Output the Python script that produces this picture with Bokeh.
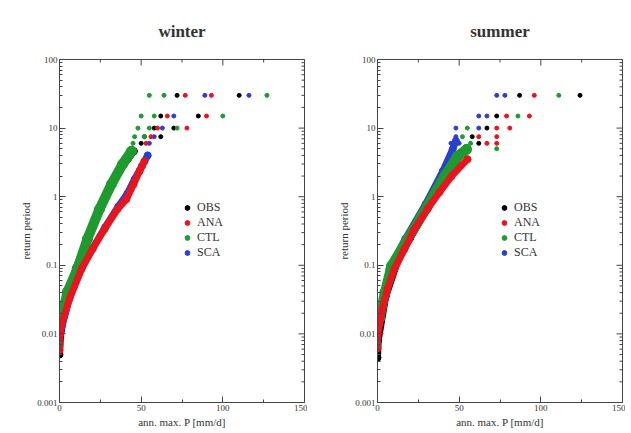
import math
from bokeh.plotting import figure
from bokeh.layouts import row
from bokeh.models import FixedTicker, Legend, LegendItem, CustomJSTickFormatter
from bokeh.embed import file_html
from bokeh.resources import INLINE

SERIES = ["OBS", "ANA", "CTL", "SCA"]
COLORS = {"OBS": "#000000", "ANA": "#e8141e", "CTL": "#1f9a2f", "SCA": "#2a3fd0"}
X_TICKS = [0, 50, 100, 150]
X_MINOR = [25, 75, 125]
Y_TICKS = [0.001, 0.01, 0.1, 1, 10, 100]
Y_MINOR = [0.002, 0.003, 0.004, 0.005, 0.006, 0.007, 0.008, 0.009,
           0.02, 0.03, 0.04, 0.05, 0.06, 0.07, 0.08, 0.09,
           0.2, 0.3, 0.4, 0.5, 0.6, 0.7, 0.8, 0.9,
           2, 3, 4, 5, 6, 7, 8, 9,
           20, 30, 40, 50, 60, 70, 80, 90]

# ---- winter: dense part of the curves (ann. max. P [mm/d], return period)
w_obs_p = [0, 0.5, 4, 10, 16.5, 23.5, 30.5, 37, 42, 45.5]
w_obs_t = [0.005, 0.009, 0.03, 0.09, 0.22, 0.6, 1.3, 2.4, 3.6, 4.6]
w_ana_p = [0, 0.6, 6.1, 13.5, 20.2, 27.6, 35.5, 41, 45.3, 49, 52]
w_ana_t = [0.0058, 0.0119, 0.0325, 0.0887, 0.173, 0.338, 0.66, 0.923, 1.52, 2.36, 3.29]
w_ctl_p = [1.2, 4.9, 11, 17.1, 24.5, 31.8, 38.6, 44.1]
w_ctl_t = [0.0166, 0.041, 0.0887, 0.242, 0.66, 1.52, 2.98, 4.62]
w_sca_p = [0.3, 6, 13.5, 20.5, 28, 36, 41.5, 46, 50.5, 54]
w_sca_t = [0.01, 0.033, 0.09, 0.18, 0.36, 0.72, 1.1, 1.8, 2.8, 4.0]
# ---- winter: sparse upper points
w_obs_tp = [72, 110, 62, 85, 58, 70, 52, 62, 50]
w_obs_tt = [30, 30, 15, 15, 10, 10, 7.5, 7.5, 6]
w_ana_tp = [77, 93, 66, 90, 60, 78, 56, 53]
w_ana_tt = [30, 30, 15, 15, 10, 10, 7.5, 6]
w_ctl_tp = [55, 64, 127, 50, 58, 100, 48, 55, 72, 46, 52, 45]
w_ctl_tt = [30, 30, 30, 15, 15, 15, 10, 10, 10, 7.5, 7.5, 6]
w_sca_tp = [89, 116, 70, 63, 58, 55]
w_sca_tt = [30, 30, 15, 10, 7.5, 6]

# ---- summer: dense part of the curves
s_obs_p = [0, 0.4, 5, 12, 20, 31, 40, 47, 52]
s_obs_t = [0.0045, 0.008, 0.035, 0.11, 0.25, 0.7, 1.6, 3, 4.4]
s_ana_p = [0, 0, 3, 6.1, 10.4, 16.5, 22.7, 30.6, 38, 45.3, 55.1]
s_ana_t = [0.0062, 0.0095, 0.0232, 0.0454, 0.0887, 0.173, 0.338, 0.66, 1.17, 1.99, 3.52]
s_ctl_p = [1.2, 4.5, 8.6, 18.4, 30.6, 41, 49, 54.5]
s_ctl_t = [0.0166, 0.04, 0.098, 0.242, 0.73, 1.99, 3.9, 4.9]
s_sca_p = [0.6, 7.3, 17, 29.5, 40, 46, 48]
s_sca_t = [0.0119, 0.0887, 0.242, 0.78, 2.36, 4.9, 6.5]
# ---- summer: sparse upper points
s_obs_tp = [87, 124, 73, 67, 58, 62]
s_obs_tt = [30, 30, 15, 10, 7.5, 6]
s_ana_tp = [96, 79, 93, 73, 81, 62, 73, 67, 73]
s_ana_tt = [30, 15, 15, 10, 10, 7.5, 7.5, 6, 6]
s_ctl_tp = [111, 86, 55, 52, 57, 73]
s_ctl_tt = [30, 15, 10, 7.5, 6, 5]
s_sca_tp = [73, 78, 62, 67, 48, 62, 48, 45, 50]
s_sca_tt = [30, 30, 15, 15, 10, 10, 7.5, 6, 6]

SERIF = "Liberation Serif"
AXC = "#444444"
TXT = "#333333"


def style_axis(ax):
    ax.major_tick_in = 6
    ax.major_tick_out = 0
    ax.minor_tick_in = 3
    ax.minor_tick_out = 0
    ax.axis_line_color = AXC
    ax.major_tick_line_color = AXC
    ax.minor_tick_line_color = AXC
    ax.major_label_text_font = SERIF
    ax.major_label_text_font_size = "9px"
    ax.major_label_text_color = TXT
    ax.major_label_standoff = 2
    ax.axis_label_text_font = SERIF
    ax.axis_label_text_font_size = "11px"
    ax.axis_label_text_font_style = "normal"
    ax.axis_label_text_color = TXT
    ax.axis_label_standoff = 2


def panel(title, curves, tops, width, border_left, border_right, legend_loc):
    p = figure(width=width, height=430, x_range=(0, 150), y_range=(0.001, 100),
               y_axis_type="log", output_backend="svg", toolbar_location=None,
               min_border_left=border_left, min_border_right=border_right,
               min_border_top=59, min_border_bottom=28)
    p.title.text = title
    p.title.text_font = SERIF
    p.title.text_font_style = "bold"
    p.title.text_font_size = "17px"
    p.title.align = "center"
    p.title.text_color = TXT
    p.title.standoff = 38
    p.grid.visible = False
    p.outline_line_color = AXC
    p.background_fill_color = "white"

    p.xaxis.ticker = FixedTicker(ticks=X_TICKS, minor_ticks=X_MINOR)
    p.yaxis.ticker = FixedTicker(ticks=Y_TICKS, minor_ticks=Y_MINOR)
    p.yaxis.formatter = CustomJSTickFormatter(code="return String(tick);")
    p.xaxis.axis_label = "ann. max. P [mm/d]"
    p.yaxis.axis_label = "return period"
    for ax in p.xaxis + p.yaxis:
        style_axis(ax)

    # mirrored inward ticks on top and right edges (clipped to the frame)
    p.scatter(X_TICKS, [100] * len(X_TICKS), marker="dash", angle=math.pi / 2,
              size=12, line_color=AXC)
    p.scatter(X_MINOR, [100] * len(X_MINOR), marker="dash", angle=math.pi / 2,
              size=6, line_color=AXC)
    p.scatter([150] * len(Y_TICKS), Y_TICKS, marker="dash", size=12, line_color=AXC)
    p.scatter([150] * len(Y_MINOR), Y_MINOR, marker="dash", size=6, line_color=AXC)

    order = ["OBS", "SCA", "CTL", "ANA"]
    widths = {"OBS": 7, "SCA": 7, "CTL": 10, "ANA": 7}
    for name in order:
        cp, ct = curves[name]
        p.line(cp, ct, line_color=COLORS[name], line_width=widths[name],
               line_cap="round", line_join="round")
        p.scatter(cp, ct, size=widths[name], color=COLORS[name])
    rends = {}
    for name in order:
        tp, tt = tops[name]
        rends[name] = p.scatter(tp, tt, size=4, marker="circle", color=COLORS[name])
    items = [LegendItem(label=name, renderers=[rends[name]]) for name in SERIES]
    leg = Legend(items=items, location=legend_loc, border_line_alpha=0,
                 background_fill_alpha=0, label_text_font=SERIF,
                 label_text_font_size="12px", label_text_color=TXT,
                 glyph_width=12, glyph_height=15, label_height=15,
                 spacing=0, padding=0, margin=0, label_standoff=4)
    p.add_layout(leg)
    return p


w = panel("winter",
          {"OBS": (w_obs_p, w_obs_t), "ANA": (w_ana_p, w_ana_t),
           "CTL": (w_ctl_p, w_ctl_t), "SCA": (w_sca_p, w_sca_t)},
          {"OBS": (w_obs_tp, w_obs_tt), "ANA": (w_ana_tp, w_ana_tt),
           "CTL": (w_ctl_tp, w_ctl_tt), "SCA": (w_sca_tp, w_sca_tt)},
          width=307, border_left=59, border_right=3, legend_loc=(122, 142))
s = panel("summer",
          {"OBS": (s_obs_p, s_obs_t), "ANA": (s_ana_p, s_ana_t),
           "CTL": (s_ctl_p, s_ctl_t), "SCA": (s_sca_p, s_sca_t)},
          {"OBS": (s_obs_tp, s_obs_tt), "ANA": (s_ana_tp, s_ana_tt),
           "CTL": (s_ctl_tp, s_ctl_tt), "SCA": (s_sca_tp, s_sca_tt)},
          width=318, border_left=70, border_right=3, legend_loc=(121, 142))

layout = row(w, s, spacing=0)
open("out.html", "w").write(file_html(layout, INLINE))
